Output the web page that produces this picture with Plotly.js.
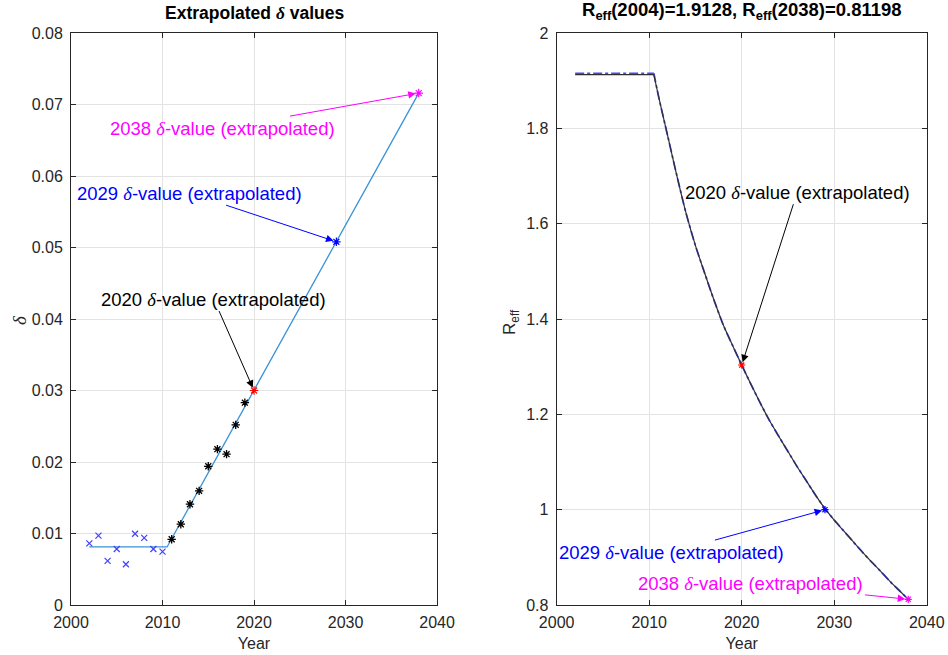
<!DOCTYPE html>
<html>
<head>
<meta charset="utf-8">
<script src="https://cdn.plot.ly/plotly-3.0.1.min.js"></script>
<style>
  html, body { margin: 0; padding: 0; background: #fff; }
  #chart { width: 948px; height: 655px; }
</style>
</head>
<body>
<div id="chart"></div>
<script>
// Observed delta values before the change point (2002-2010)
const yearsEarly = [2002, 2003, 2004, 2005, 2006, 2007, 2008, 2009, 2010];
const deltaEarly = [0.00863, 0.0097, 0.00617, 0.00784, 0.0057, 0.00997, 0.0094, 0.00784, 0.00746];

// Observed delta values after the change point (2011-2019)
const yearsLate = [2011, 2012, 2013, 2014, 2015, 2016, 2017, 2018, 2019];
const deltaLate = [0.00919, 0.0113, 0.0141, 0.01597, 0.0194, 0.0218, 0.0211, 0.0252, 0.0283];

// Piecewise fit: constant level, then linear trend
const fitYears = [2002, 2010.5, 2038];
const fitDelta = [0.00812, 0.00812, 0.0716];

// Extrapolated delta values
const extraYears = [2020, 2029, 2038];
const extraDelta = [0.0300, 0.0508, 0.0716];
const extraR = [1.3035, 1.0, 0.81198];
const extraColors = ['#ff0000', '#0000ff', '#ff00ff'];

// Effective reproduction number
const rYears = [2002, 2010.5, 2011, 2012, 2013, 2014, 2015, 2016, 2017, 2018, 2019, 2020,
  2021, 2022, 2023, 2024, 2025, 2026, 2027, 2028, 2029, 2030, 2031, 2032, 2033, 2034,
  2035, 2036, 2037, 2038];
const rModel = [1.9128, 1.9128, 1.868, 1.784, 1.700, 1.621, 1.554, 1.496, 1.440, 1.388,
  1.345, 1.3035, 1.263, 1.224, 1.187, 1.154, 1.122, 1.090, 1.060, 1.030, 1.002, 0.978,
  0.956, 0.934, 0.912, 0.891, 0.871, 0.850, 0.831, 0.81198];
const rFit = [1.9155, 1.9155, 1.868, 1.784, 1.700, 1.621, 1.554, 1.496, 1.440, 1.388,
  1.345, 1.3035, 1.263, 1.224, 1.187, 1.154, 1.122, 1.090, 1.060, 1.030, 1.002, 0.978,
  0.956, 0.934, 0.912, 0.891, 0.871, 0.850, 0.831, 0.81198];

const xTicks = [2000, 2010, 2020, 2030, 2040];
const leftTicks = [0, 0.01, 0.02, 0.03, 0.04, 0.05, 0.06, 0.07, 0.08];
const rightTicks = [0.8, 1, 1.2, 1.4, 1.6, 1.8, 2];
const labels = ['2020', '2029', '2038'];

const FONT = 'Liberation Sans, Arial, Helvetica, sans-serif';
const AX = '#262626';
const DELTA = '<span style="font-family:\'Liberation Serif\',serif;font-style:italic">δ</span>';

// Flat segment drawn straight, decay segment smoothed
function rTraces(vals, line) {
  return [
    {x: rYears.slice(0, 2), y: vals.slice(0, 2), xaxis: 'x2', yaxis: 'y2',
     mode: 'lines', line: Object.assign({}, line)},
    {x: rYears.slice(1), y: vals.slice(1), xaxis: 'x2', yaxis: 'y2',
     mode: 'lines', line: Object.assign({shape: 'spline', smoothing: 0.8}, line)}
  ];
}

const traces = [
  {x: fitYears, y: fitDelta, xaxis: 'x', yaxis: 'y', mode: 'lines',
   line: {color: '#3a93d6', width: 1.3}},
  {x: yearsEarly, y: deltaEarly, xaxis: 'x', yaxis: 'y', mode: 'markers',
   marker: {symbol: 'x-thin-open', size: 6, color: '#4040ff', line: {color: '#4040ff', width: 1.2}}},
  {x: yearsLate, y: deltaLate, xaxis: 'x', yaxis: 'y', mode: 'markers',
   marker: {symbol: 'asterisk-open', size: 7, color: '#000000', line: {color: '#000000', width: 1.3}}},
  {x: extraYears, y: extraDelta, xaxis: 'x', yaxis: 'y', mode: 'markers',
   marker: {symbol: 'asterisk-open', size: 7, color: extraColors, line: {color: extraColors, width: 1.2}}}
].concat(
  rTraces(rFit, {color: '#4646ff', width: 1.8, dash: 'dashdot'}),
  rTraces(rModel, {color: '#303030', width: 1.2}),
  [{x: extraYears, y: extraR, xaxis: 'x2', yaxis: 'y2', mode: 'markers',
    marker: {symbol: 'asterisk-open', size: 6, color: extraColors, line: {color: extraColors, width: 1.2}}}]
);

function axisBase(extra) {
  return Object.assign({
    showline: true, linecolor: AX, linewidth: 1, mirror: 'ticks',
    ticks: 'inside', ticklen: 5, tickcolor: AX,
    showgrid: true, gridcolor: '#e3e3e3', gridwidth: 1, zeroline: false,
    tickfont: {family: FONT, size: 16, color: AX}
  }, extra);
}

// Annotation text centres (ax, ay) are given in data units
const annLeft = [
  {x: 2038, y: 0.0716, ax: 2016.6, ay: 0.0667, color: '#ff00ff', i: 2},
  {x: 2029, y: 0.0508, ax: 2013.0, ay: 0.0576, color: '#0000ff', i: 1},
  {x: 2020, y: 0.0300, ax: 2015.6, ay: 0.0428, color: '#000000', i: 0}
];
const annRight = [
  {x: 2020, y: 1.3035, ax: 2026.0, ay: 1.666, color: '#000000', i: 0},
  {x: 2029, y: 1.0, ax: 2012.4, ay: 0.911, color: '#0000ff', i: 1},
  {x: 2038, y: 0.81198, ax: 2021.0, ay: 0.846, color: '#ff00ff', i: 2}
];

function makeAnn(a, xr, yr) {
  return {
    x: a.x, y: a.y, xref: xr, yref: yr, axref: xr, ayref: yr, ax: a.ax, ay: a.ay,
    text: labels[a.i] + ' ' + DELTA + '-value (extrapolated)',
    showarrow: true, arrowhead: 2, arrowsize: 1.5, arrowwidth: 1,
    arrowcolor: a.color, standoff: 3,
    font: {family: FONT, size: 18.5, color: a.color}
  };
}

const annotations = annLeft.map(a => makeAnn(a, 'x', 'y'))
  .concat(annRight.map(a => makeAnn(a, 'x2', 'y2')))
  .concat([
    {text: '<b>Extrapolated ' + DELTA + ' values</b>', xref: 'paper', yref: 'paper',
     x: 0.268, y: 0.962, xanchor: 'center', yanchor: 'bottom', showarrow: false,
     font: {family: FONT, size: 17.5, color: '#000'}},
    {text: '<b>R<sub>eff</sub>(2004)=1.9128, R<sub>eff</sub>(2038)=0.81198</b>',
     xref: 'paper', yref: 'paper', x: 0.7824, y: 0.962, xanchor: 'center',
     yanchor: 'bottom', showarrow: false,
     font: {family: FONT, size: 18.5, color: '#000'}},
    {text: DELTA, xref: 'paper', yref: 'paper', x: 20 / 948, y: 1 - 320 / 655,
     xanchor: 'center', yanchor: 'middle', textangle: -90, showarrow: false,
     font: {family: FONT, size: 19, color: AX}},
    {text: 'R<sub>eff</sub>', xref: 'paper', yref: 'paper', x: 511 / 948, y: 1 - 322 / 655,
     xanchor: 'center', yanchor: 'middle', textangle: -90, showarrow: false,
     font: {family: FONT, size: 17, color: AX}}
  ]);

const layout = {
  width: 948, height: 655,
  margin: {l: 0, r: 0, t: 0, b: 0},
  paper_bgcolor: '#ffffff', plot_bgcolor: '#ffffff',
  showlegend: false,
  xaxis: axisBase({domain: [0.0749, 0.4610], range: [2000, 2040], tickvals: xTicks,
    ticklabelstandoff: 3,
    title: {text: 'Year', font: {family: FONT, size: 16, color: AX}, standoff: 7}}),
  yaxis: axisBase({domain: [0.0763, 0.9496], range: [0, 0.08], tickvals: leftTicks,
    ticklabelstandoff: 4}),
  xaxis2: axisBase({domain: [0.5872, 0.9776], range: [2000, 2040], tickvals: xTicks,
    anchor: 'y2', ticklabelstandoff: 3,
    title: {text: 'Year', font: {family: FONT, size: 16, color: AX}, standoff: 7}}),
  yaxis2: axisBase({domain: [0.0763, 0.9496], range: [0.8, 2], tickvals: rightTicks,
    anchor: 'x2', ticklabelstandoff: 4}),
  annotations: annotations
};

Plotly.newPlot('chart', traces, layout, {displayModeBar: false, staticPlot: true});
</script>
</body>
</html>
